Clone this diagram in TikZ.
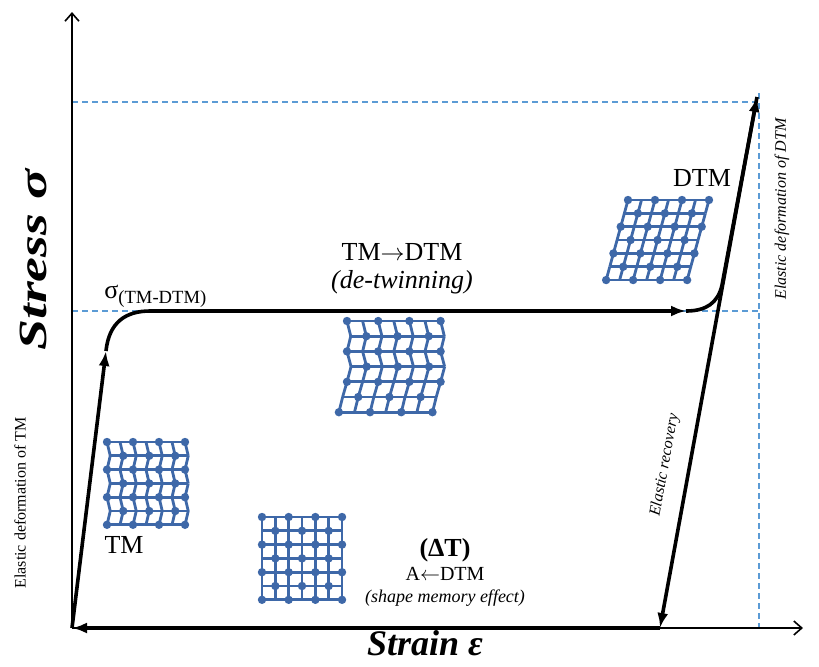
\documentclass[tikz,border=0pt]{standalone}
\usepackage{fontspec}
\setmainfont{Liberation Serif}
\usetikzlibrary{arrows.meta}
\definecolor{guideblue}{RGB}{91,155,213}
\definecolor{latticeblue}{RGB}{62,104,168}
\tikzset{
  Path/.style={line width=1.8pt, black},
  Tip/.style={-{Latex[length=7.5pt,width=5.5pt]}},
  Axis/.style={line width=0.8pt, -{Straight Barb[length=4pt,width=7pt]}},
  Guide/.style={guideblue, line width=0.7pt, dash pattern=on 3pt off 2pt},
  Bond/.style={latticeblue, line width=1.4pt, line join=round},
  Label/.style={inner sep=0pt, font=\fontsize{13}{14}\selectfont},
  Small/.style={inner sep=0pt, font=\fontsize{8}{9}\selectfont},
}
% 7x7 lattice; #1 scope options, #2 horizontal shift of each row
\newcommand{\Lattice}[2]{
  \begin{scope}[#1]
    \foreach \i in {0,...,6} {
      \pgfmathsetmacro{\sa}{{#2}[\i]}
      \draw[Bond] (\sa,\i) -- ++(6,0);
      \ifnum\i<6
        \pgfmathsetmacro{\sb}{{#2}[\i+1]}
        \foreach \j in {0,...,6}
          \draw[Bond] (\j+\sa,\i) -- (\j+\sb,\i+1);
      \fi
      \foreach \j in {0,...,6} {
        \pgfmathtruncatemacro{\p}{mod(\i+\j,2)}
        \ifnum\p=0 \fill[latticeblue] (\j+\sa,\i) circle[radius=2.1pt]; \fi
      }
    }
  \end{scope}}

\begin{document}
\begin{tikzpicture}[x=0.5pt, y=-0.5pt]
  \useasboundingbox (0,0) rectangle (819,666);

  % points of the loading cycle
  \coordinate (O) at (72,628);
  \coordinate (A) at (106,351);
  \coordinate (B) at (150,311);
  \coordinate (C) at (686,311);
  \coordinate (D) at (722,285);
  \coordinate (P) at (757,97);
  \coordinate (R) at (660,628);
  \coordinate (Xend) at (803,628);
  \coordinate (Yend) at (72,12);

  % guide lines
  \draw[Guide] (72,311) -- (759,311);
  \draw[Guide] (72,102) -- (759,102);
  \draw[Guide] (759,93) -- (759,628);

  % axes
  \draw[Axis] (O) -- (Xend);
  \draw[Axis] (O) -- (Yend);

  % cycle
  \draw[Path, Tip] (O) -- (A);
  \draw[Path] (A) .. controls (109,322) and (126,311) .. (B);
  \draw[Path, Tip] (B) -- (C);
  \draw[Path] (C) .. controls (706,311) and (718,303) .. (D);
  \draw[Path, Tip] (D) -- (P);
  \draw[Path, Tip] (P) -- (R);
  \draw[Path, Tip] (R) -- (O);

  % lattices
  \Lattice{shift={(107,442)}, x=6.5pt, y=-6.9pt}{0,0.25,0,0.25,0,0.25,0}
  \Lattice{shift={(262,517)}, x=6.67pt, y=-6.9pt}{0,0,0,0,0,0,0}
  \Lattice{shift={(347,321)}, x=7.8pt, y=-7.6pt}{0,0.24,0,0.26,0,-0.28,-0.52}
  \Lattice{shift={(628,200)}, x=6.75pt, y=-6.67pt}{0,-0.27,-0.54,-0.81,-1.08,-1.35,-1.62}

  % labels
  \node[inner sep=0pt, rotate=90, xscale=1.4, font=\fontsize{20}{22}\selectfont\bfseries\itshape] (stress) at (33,260) {Stress σ};
  \node[inner sep=0pt, font=\fontsize{18}{20}\selectfont\bfseries\itshape] (strain) at (425,643) {Strain ε};
  \node[Label, anchor=base west] (sigma) at (104,298)
    {σ\raisebox{-2.5pt}{\fontsize{9.3}{10}\selectfont (TM-DTM)}};
  \node[Label] (twin) at (402,252) {TM$\rightarrow$DTM};
  \node[Label, font=\fontsize{13}{14}\selectfont\itshape] (detwin) at (402,282) {(de-twinning)};
  \node[Label] (dtm) at (702,178) {DTM};
  \node[Label] (tm) at (124,545) {TM};
  \node[Label, font=\fontsize{13}{14}\selectfont\bfseries] (dT) at (445,550) {(ΔT)};
  \node[inner sep=0pt, font=\fontsize{10}{11}\selectfont] (back) at (445,574) {A$\leftarrow$DTM};
  \node[inner sep=0pt, font=\fontsize{9}{10}\selectfont\itshape] (sme) at (445,598) {(shape memory effect)};
  \node[Small, rotate=90] (elTM) at (20,503) {Elastic deformation of TM};
  \node[Small, rotate=90, font=\fontsize{8}{9}\selectfont\itshape] (elDTM) at (782,209) {Elastic deformation of DTM};
  \node[Small, rotate=79.6, font=\fontsize{8}{9}\selectfont\itshape] (recov) at (665,465) {Elastic recovery};
\end{tikzpicture}
\end{document}
